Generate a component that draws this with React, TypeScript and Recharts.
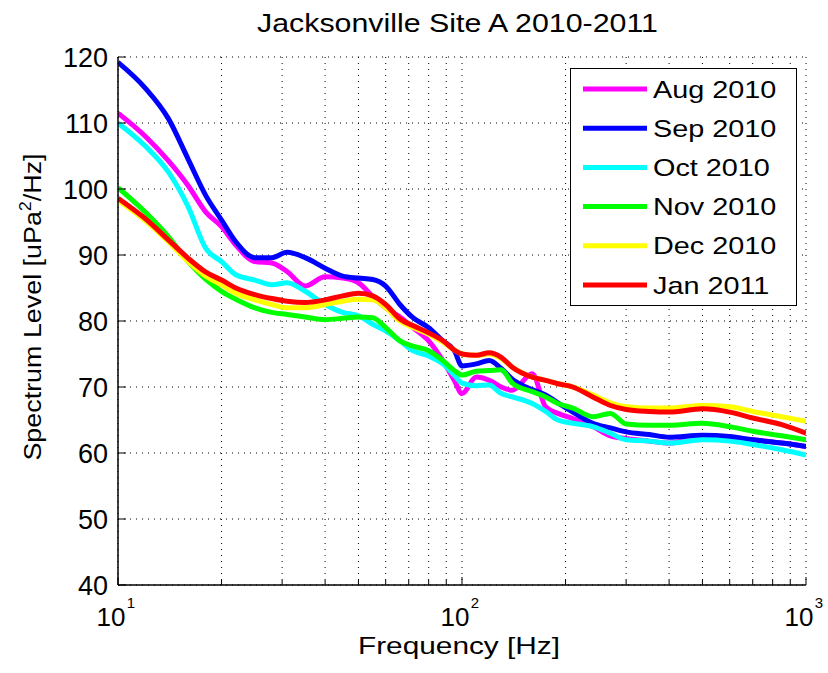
import { LineChart, Line, XAxis, YAxis, CartesianGrid, Legend } from "recharts";

const freqs = [
  10, 12, 14, 16, 18, 20, 22, 25, 28, 31, 35, 40, 45, 50, 55, 60, 66, 72, 80, 88,
  95, 100, 110, 120, 130, 140, 160, 175, 190, 210, 240, 270, 300, 350, 400, 500,
  600, 700, 850, 1000,
];

const aug2010 = [
  111.5, 108, 104.3, 100.5, 96.5, 94.3, 91.5, 89, 88.8, 87.5, 85.3, 86.7, 86.5,
  85.8, 83.7, 82, 80.6, 79, 77, 74, 71, 69, 71.5, 71, 70, 69.5, 72, 67, 66, 65.2,
  64, 62.6, 62.2, 61.8, 61.5, 62.3, 62.2, 62, 61.5, 61,
];
const sep2010 = [
  119.2, 115.3, 110.7, 104.5, 99, 95.3, 92, 89.6, 89.6, 90.4, 89.6, 88, 86.8,
  86.5, 86.3, 85.3, 82.5, 80.5, 79, 77, 75.5, 73.2, 73.5, 74, 72.8, 71.2, 69.6,
  68.8, 67.6, 66.2, 64.5, 63.8, 63.2, 62.8, 62.4, 62.7, 62.5, 62, 61.5, 61,
];
const oct2010 = [
  110, 106.5, 102.6, 97.3, 91, 89, 87, 86.2, 85.5, 85.8, 84.5, 82.5, 81.3, 80.8,
  79.5, 78.5, 77, 75.5, 74.7, 73.5, 71.8, 70.6, 70.2, 70.3, 69, 68.5, 67.5, 66.3,
  65, 64.5, 64, 63, 62, 61.8, 61.5, 62, 61.8, 61.3, 60.5, 59.7,
];
const nov2010 = [
  100.2, 96.5, 92.8, 89, 86.3, 84.5, 83.3, 82, 81.3, 81, 80.6, 80.2, 80.4, 80.6,
  80.5, 79, 77, 76.2, 75.5, 74, 72.5, 71.8, 72.4, 72.5, 72.6, 70.6, 69.3, 68.5,
  67.5, 66.8, 65.5, 66, 64.4, 64.2, 64.2, 64.5, 64, 63.3, 62.6, 62,
];
const dec2010 = [
  98.3, 95.2, 92, 89, 86.8, 85.5, 84.2, 83.2, 82.5, 82, 82, 82.5, 83, 83.3, 83.2,
  82, 80, 79, 78, 76.8, 75.6, 75, 74.8, 75, 74.3, 73, 71.5, 71, 70.5, 70, 68.8,
  67.6, 67, 66.8, 66.8, 67.2, 67, 66.3, 65.5, 64.8,
];
const jan2011 = [
  98.6, 95.5, 92.3, 89.5, 87.4, 86.2, 85, 84, 83.4, 83, 82.8, 83.2, 83.8, 84.2,
  83.8, 82.5, 80.3, 79.3, 78.2, 77, 75.6, 75, 74.8, 75.2, 74.5, 73, 71.5, 71,
  70.5, 70, 68.5, 67.2, 66.6, 66.3, 66.2, 66.7, 66.2, 65.3, 64.3, 63,
];

const xTicks = [
  10, 20, 30, 40, 50, 60, 70, 80, 90, 100, 200, 300, 400, 500, 600, 700, 800,
  900, 1000,
];
const yTicks = [40, 50, 60, 70, 80, 90, 100, 110, 120];

const series = [
  { key: "aug", name: "Aug 2010", color: "#ff00ff", values: aug2010 },
  { key: "sep", name: "Sep 2010", color: "#0000ff", values: sep2010 },
  { key: "oct", name: "Oct 2010", color: "#00ffff", values: oct2010 },
  { key: "nov", name: "Nov 2010", color: "#00ff00", values: nov2010 },
  { key: "dec", name: "Dec 2010", color: "#ffff00", values: dec2010 },
  { key: "jan", name: "Jan 2011", color: "#ff0000", values: jan2011 },
];

const rows = freqs.map((f, i) => {
  const row: Record<string, number> = { f };
  series.forEach((s) => (row[s.key] = s.values[i]));
  return row;
});

const FONT = "'Liberation Sans', Arial, Helvetica, sans-serif";

function XTick(props: any) {
  const { x, y, payload } = props;
  const v = payload.value;
  const exp = Math.round(Math.log10(v));
  const major = Math.abs(Math.pow(10, exp) - v) < 1e-6;
  return (
    <g>
      <line x1={x} y1={y} x2={x} y2={y - (major ? 8 : 5)} stroke="#000" />
      {major && (
        <text fontFamily={FONT} fill="#000">
          <tspan x={x - 7} y={y + 41} fontSize={26} textAnchor="middle">
            10
          </tspan>
          <tspan x={x + 13} y={y + 23} fontSize={15} textAnchor="middle">
            {exp}
          </tspan>
        </text>
      )}
    </g>
  );
}

function YTick(props: any) {
  const { x, y, payload } = props;
  return (
    <g>
      <line x1={x} y1={y} x2={x + 8} y2={y} stroke="#000" />
      <text
        x={x - 10}
        y={y + 9.5}
        textAnchor="end"
        fontSize={27}
        fontFamily={FONT}
        fill="#000"
      >
        {payload.value}
      </text>
    </g>
  );
}

function LegendBox(props: any) {
  const items = props.payload || [];
  // keep the plotting order rather than the legend's own sorting
  const ordered = series
    .map((s) => items.find((it: any) => it.value === s.name))
    .filter(Boolean);
  return (
    <svg width={227} height={238} style={{ display: "block" }}>
      <rect x={0.5} y={0.5} width={226} height={237} fill="#fff" stroke="#000" />
      {ordered.map((it: any, i: number) => {
        const cy = 21 + i * 39.2;
        return (
          <g key={it.value}>
            <line x1={13} y1={cy} x2={77} y2={cy} stroke={it.color} strokeWidth={5} />
            <text
              transform={`translate(83, ${cy + 8.5}) scale(1.2, 1)`}
              fontSize={24}
              fontFamily={FONT}
              fill="#000"
            >
              {it.value}
            </text>
          </g>
        );
      })}
    </svg>
  );
}

export default function App() {
  return (
    <div style={{ position: "relative", width: 828, height: 673, background: "#fff" }}>
      <style>{"body{margin:0;background:#fff}"}</style>
      <LineChart
        width={828}
        height={673}
        data={rows}
        margin={{ top: 57, right: 22, bottom: 0, left: 0 }}
      >
        <CartesianGrid stroke="#000" strokeDasharray="1 5" strokeWidth={1} />
        <XAxis
          dataKey="f"
          type="number"
          scale="log"
          domain={[10, 1000]}
          ticks={xTicks}
          interval={0}
          height={88}
          tickSize={0}
          tickMargin={0}
          tickLine={false}
          axisLine={{ stroke: "#000", strokeWidth: 1.5 }}
          tick={<XTick />}
          allowDataOverflow
        />
        <YAxis
          type="number"
          domain={[40, 120]}
          ticks={yTicks}
          interval={0}
          width={118}
          tickSize={0}
          tickMargin={0}
          tickLine={false}
          axisLine={{ stroke: "#000", strokeWidth: 1.5 }}
          tick={<YTick />}
          allowDataOverflow
        />
        {series.map((s) => (
          <Line
            key={s.key}
            dataKey={s.key}
            name={s.name}
            stroke={s.color}
            strokeWidth={5}
            type="monotone"
            dot={false}
            isAnimationActive={false}
          />
        ))}
        <Legend
          layout="vertical"
          align="center"
          verticalAlign="middle"
          wrapperStyle={{ position: "absolute", left: 570, top: 68, width: 227 }}
          content={<LegendBox />}
        />
      </LineChart>
      <svg
        width={828}
        height={673}
        style={{ position: "absolute", left: 0, top: 0, pointerEvents: "none" }}
      >
        <text
          x={257}
          y={32}
          fontSize={26}
          fontFamily={FONT}
          textLength={401}
          lengthAdjust="spacingAndGlyphs"
          fill="#000"
        >
          Jacksonville Site A 2010-2011
        </text>
        <text
          x={358}
          y={654}
          fontSize={24}
          fontFamily={FONT}
          textLength={202}
          lengthAdjust="spacingAndGlyphs"
          fill="#000"
        >
          Frequency [Hz]
        </text>
        <g transform="translate(41, 307) rotate(-90) scale(1.12, 1)">
          <text textAnchor="middle" fontSize={24} fontFamily={FONT} fill="#000">
            Spectrum Level [uPa
            <tspan dy={-10} fontSize={16}>
              2
            </tspan>
            <tspan dy={10}>/Hz]</tspan>
          </text>
        </g>
      </svg>
    </div>
  );
}
